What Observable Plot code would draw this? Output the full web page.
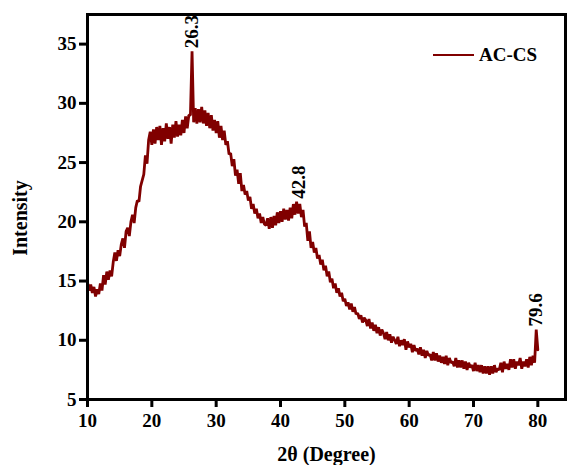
<!DOCTYPE html>
<html>
<head>
<meta charset="utf-8">
<script src="https://cdn.jsdelivr.net/npm/d3@7"></script>
<script src="https://cdn.jsdelivr.net/npm/@observablehq/plot@0.6"></script>
<style>
  html, body { margin: 0; padding: 0; background: #fff; }
  #wrap { position: relative; width: 568px; height: 465px; font-family: "Liberation Serif", "Times New Roman", serif; }
  #legend { position: absolute; left: 433px; top: 44px; display: flex; align-items: center; font-weight: bold; font-size: 19px; color: #000; }
  #legend .sw { width: 41px; height: 0; border-top: 2.5px solid #800000; margin-right: 5px; }
</style>
</head>
<body>
<div id="wrap"><div id="legend"><span class="sw"></span><span>AC-CS</span></div></div>
<script>
// 2θ sampling grid (degrees)
const twoThetaStart = 10;
const twoThetaStep = 0.25;
// Intensity, one row per 2 degrees (8 samples each)
const intensity = [
  14.9,14.2,14.7,14.0,14.5,13.7,14.3,13.9,
  14.8,14.2,15.5,14.7,15.8,15.1,15.9,15.4,
  16.6,17.4,16.7,17.6,17.1,18.1,18.6,17.8,
  19.2,19.5,18.8,20.0,20.6,19.9,21.2,21.8,
  21.7,23.0,23.5,24.0,25.6,24.9,26.9,27.6,
  26.5,27.8,26.6,28.0,26.9,28.1,26.5,27.9,
  26.8,28.3,27.0,28.0,26.6,28.2,27.1,28.5,
  27.2,28.2,27.3,28.6,27.5,28.9,27.9,29.0,
  29.0,34.4,28.4,29.6,28.3,29.5,28.4,29.7,
  28.3,29.4,28.1,29.2,27.9,29.0,27.7,28.6,
  27.5,28.5,27.1,28.1,26.9,27.7,26.5,26.8,
  25.7,25.8,24.7,25.3,23.9,24.4,23.2,24.1,
  22.6,23.1,22.3,22.6,21.8,22.1,21.1,21.5,
  20.7,21.1,20.3,20.7,19.9,20.4,19.8,19.7,
  20.3,19.4,20.4,19.5,20.5,19.7,20.8,19.9,
  20.9,20.0,21.1,20.2,21.0,20.1,21.2,20.3,
  21.5,20.6,21.7,20.7,21.5,20.4,21.0,19.6,
  19.9,18.4,19.2,17.8,18.3,17.4,17.8,16.9,
  17.2,16.4,16.8,15.9,16.3,15.4,15.8,14.9,
  15.2,14.4,14.8,14.0,14.4,13.7,14.0,13.3,
  13.5,12.9,13.2,12.6,13.1,12.4,12.8,12.2,
  12.3,11.8,12.1,11.5,11.9,11.7,11.2,11.8,
  11.0,11.5,10.8,11.3,10.6,11.1,10.4,10.9,
  10.6,10.1,10.7,10.0,10.5,9.8,10.3,10.0,
  9.7,10.3,9.5,10.0,9.6,10.1,9.2,9.9,
  9.4,9.7,9.0,9.6,9.1,9.3,8.8,9.4,
  8.7,9.2,8.5,9.1,8.7,8.8,8.3,9.0,
  8.3,8.9,8.2,8.7,8.1,8.6,8.0,8.7,
  7.9,8.5,8.1,8.2,7.8,8.5,7.7,8.3,
  7.7,8.3,7.6,8.2,7.5,8.1,7.7,7.9,
  7.4,8.1,7.4,7.9,7.3,7.9,7.2,7.8,
  7.2,7.8,7.1,7.8,7.2,7.9,7.3,7.6,
  7.5,8.1,7.3,8.2,7.6,8.0,7.5,8.4,
  7.7,8.4,7.6,8.2,7.9,8.5,7.6,8.2,
  7.8,8.4,7.7,8.6,7.9,8.7,8.1,10.9,
  9.2
];
// Peak annotations
const peakLabels = ["26.3", "42.8", "79.6"];
const peakX = [26.3, 42.8, 79.75];
const peakY = [34.4, 21.7, 10.9];
// Axis ticks
const xTicks = [10, 20, 30, 40, 50, 60, 70, 80];
const yTicks = [5, 10, 15, 20, 25, 30, 35];

const series = intensity.map((v, i) => ({x: twoThetaStart + i * twoThetaStep, y: v}));
const peaks = peakLabels.map((t, i) => ({t, x: peakX[i], y: peakY[i]}));

const chart = Plot.plot({
  width: 568,
  height: 465,
  marginLeft: 87,
  marginRight: 3,
  marginTop: 14,
  marginBottom: 66,
  style: {fontFamily: '"Liberation Serif", "Times New Roman", serif', fontWeight: "bold", fontSize: "19px", background: "transparent"},
  x: {domain: [10, 84.3]},
  y: {domain: [5, 37.5]},
  marks: [
    Plot.line(series, {x: "x", y: "y", stroke: "#800000", strokeWidth: 2.8, strokeLinejoin: "miter"}),
    Plot.text(peaks, {x: "x", y: "y", text: "t", rotate: -90, textAnchor: "start", lineAnchor: "middle", dy: -3, fontSize: 19, fontWeight: "bold", fill: "#000"}),
    Plot.axisX({ticks: xTicks, tickSize: 8, tickPadding: 6, strokeWidth: 3, label: null, fontSize: 19}),
    Plot.axisY({ticks: yTicks, tickSize: 8, tickPadding: 3, strokeWidth: 3, label: null, fontSize: 19}),
    Plot.frame({strokeWidth: 3, stroke: "#000"}),
    Plot.text(["Intensity"], {frameAnchor: "left", text: d => d, rotate: -90, textAnchor: "middle", lineAnchor: "middle", dx: -67, dy: 11, fontSize: 20, fontWeight: "bold"}),
    Plot.text(["2θ (Degree)"], {frameAnchor: "bottom", text: d => d, textAnchor: "middle", lineAnchor: "middle", dy: 55, fontSize: 20, fontWeight: "bold"})
  ]
});
document.getElementById("wrap").prepend(chart);
</script>
</body>
</html>
